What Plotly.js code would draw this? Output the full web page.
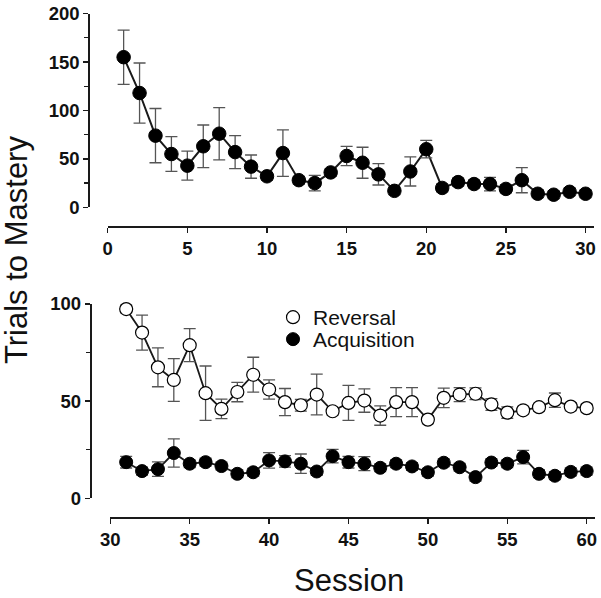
<!DOCTYPE html>
<html>
<head>
<meta charset="utf-8">
<script src="https://cdn.plot.ly/plotly-3.0.1.min.js"></script>
<style>html,body{margin:0;padding:0;background:#fff;}#chart{width:601px;height:598px;}</style>
</head>
<body>
<div id="chart"></div>
<script>
// ---- Data ----
const sessionsTop = [1,2,3,4,5,6,7,8,9,10,11,12,13,14,15,16,17,18,19,20,21,22,23,24,25,26,27,28,29,30];
const topMean = [155,118,74,55,43,63,76,57,42,32,56,28,25,36,53,46,34,17,37,60,20,26,24,24,19,28,14,13,16,14];
const topErr  = [28,31,28,18,15,22,27,17,12,4,24,4,8,4,10,16,11,4,15,9,4,4,4,7,4,13,4,4,4,4];

const sessionsBottom = [31,32,33,34,35,36,37,38,39,40,41,42,43,44,45,46,47,48,49,50,51,52,53,54,55,56,57,58,59,60];
const reversalMean = [97.4,85.3,67.4,60.9,78.8,54.1,46,54.7,63.6,56,49.5,47.9,53.4,44.8,49.1,50.3,42.6,49.5,49.5,40.5,51.7,53.4,53.8,48.3,44.1,45.3,46.9,50.5,47.2,46.4];
const reversalErr  = [2,9,10,11,8.5,14,5,5,9,5,7,3,10.5,2,9,6,5,7.5,7.5,2,5,3.6,3,3,3,2,2,3.7,2,2];
const acqMean = [18.6,14,15,23.3,17.8,18.6,16.6,12.6,13.4,19.5,19,17.8,13.8,21.7,18.6,17.8,15.7,17.8,16.4,13.4,18.3,16,10.9,18.4,17.8,21.2,12.6,11.6,13.6,14];
const acqErr  = [3,2,3.7,7.3,2,2,2,2,2,4,3,5,2,3.5,3,3.6,2,2,2,2,2,2,2,2,2,3.5,2,2,2,2];

const seriesNames = ["Reversal", "Acquisition"];
const yTitle = "Trials to Mastery";
const xTitle = "Session";

// ---- Layout helpers (pixel -> paper) ----
const W = 601, H = 598;
const fx = p => p / W;
const fy = p => 1 - p / H;

const FONT = "Liberation Sans, Arial, sans-serif";
const INK = "#1a1a1a";
const ERRC = "#555555";

function errBar(arr) {
  return {type: "data", array: arr, visible: true, color: ERRC, thickness: 1.3, width: 6};
}

const traces = [
  // top panel
  {x: sessionsTop, y: topMean, xaxis: "x", yaxis: "y", mode: "lines", showlegend: false,
   line: {color: INK, width: 2}, hoverinfo: "skip", cliponaxis: false},
  {x: sessionsTop, y: topMean, xaxis: "x", yaxis: "y", mode: "markers", showlegend: false,
   error_y: errBar(topErr), cliponaxis: false,
   marker: {size: 13.5, color: "#000", line: {color: "#000", width: 1}}},
  // bottom panel - reversal
  {x: sessionsBottom, y: reversalMean, xaxis: "x2", yaxis: "y2", mode: "lines", showlegend: false,
   line: {color: INK, width: 1.8}, hoverinfo: "skip", cliponaxis: false},
  {x: sessionsBottom, y: reversalMean, xaxis: "x2", yaxis: "y2", mode: "markers", name: seriesNames[0],
   legend: "legend", error_y: errBar(reversalErr), cliponaxis: false,
   marker: {size: 13, color: "#fff", line: {color: "#000", width: 1.2}}},
  // bottom panel - acquisition
  {x: sessionsBottom, y: acqMean, xaxis: "x2", yaxis: "y2", mode: "lines", showlegend: false,
   line: {color: INK, width: 1.8}, hoverinfo: "skip", cliponaxis: false},
  {x: sessionsBottom, y: acqMean, xaxis: "x2", yaxis: "y2", mode: "markers", name: seriesNames[1],
   legend: "legend2", error_y: errBar(acqErr), cliponaxis: false,
   marker: {size: 13, color: "#000", line: {color: "#000", width: 1}}}
];

const axisCommon = {
  showline: true, linewidth: 2, linecolor: INK, showgrid: false, zeroline: false,
  ticks: "outside", ticklen: 5, tickwidth: 1.5, tickcolor: INK,
  tickfont: {family: FONT, size: 18.5, color: "#111", weight: "bold"},
  automargin: false, fixedrange: true
};

const layout = {
  width: W, height: H,
  margin: {l: 0, r: 0, t: 0, b: 0, pad: 0},
  paper_bgcolor: "#fff", plot_bgcolor: "rgba(0,0,0,0)",
  font: {family: FONT, color: "#111"},
  xaxis: Object.assign({}, axisCommon, {
    domain: [fx(107.7), fx(593.5)], range: [0, 30.5], tick0: 0, dtick: 5,
    anchor: "free", position: fy(226.7)
  }),
  yaxis: Object.assign({}, axisCommon, {
    domain: [fy(207.3), fy(13.6)], range: [0, 200], tick0: 0, dtick: 50,
    anchor: "free", position: fx(89.3),
    minor: {dtick: 25, ticks: "outside", ticklen: 4, tickwidth: 1.2, tickcolor: INK, showgrid: false}
  }),
  xaxis2: Object.assign({}, axisCommon, {
    domain: [fx(110.3), fx(594.6)], range: [30, 60.5], tick0: 30, dtick: 5,
    anchor: "free", position: fy(517.7)
  }),
  yaxis2: Object.assign({}, axisCommon, {
    domain: [fy(498.3), fy(304)], range: [0, 100], tick0: 0, dtick: 50,
    anchor: "free", position: fx(90.7),
    minor: {dtick: 25, ticks: "outside", ticklen: 4, tickwidth: 1.2, tickcolor: INK, showgrid: false}
  }),
  legend: {x: fx(273), y: fy(297), xanchor: "left", yanchor: "top", bgcolor: "rgba(0,0,0,0)",
    font: {family: FONT, size: 21, color: "#111"}, borderwidth: 0},
  legend2: {x: fx(273), y: fy(319), xanchor: "left", yanchor: "top", bgcolor: "rgba(0,0,0,0)",
    font: {family: FONT, size: 21, color: "#111"}, borderwidth: 0},
  annotations: [
    {text: yTitle, xref: "paper", yref: "paper", x: fx(17), y: fy(250), textangle: -90,
     showarrow: false, xanchor: "center", yanchor: "middle",
     font: {family: FONT, size: 31, color: "#111"}},
    {text: xTitle, xref: "paper", yref: "paper", x: fx(349), y: fy(580), 
     showarrow: false, xanchor: "center", yanchor: "middle",
     font: {family: FONT, size: 31, color: "#111"}}
  ]
};

Plotly.newPlot("chart", traces, layout, {displayModeBar: false, staticPlot: true});
</script>
</body>
</html>
